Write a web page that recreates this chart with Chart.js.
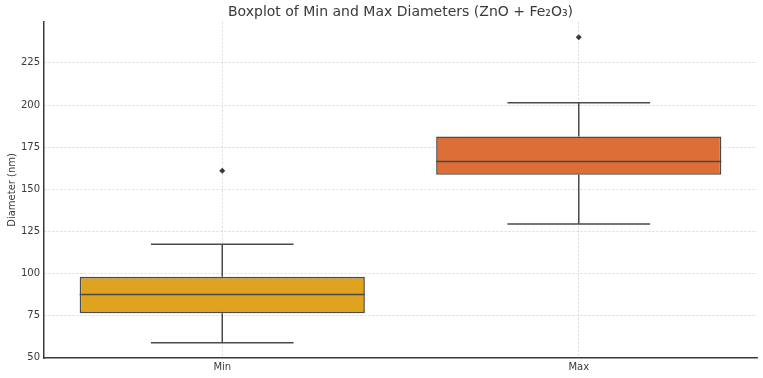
<!DOCTYPE html>
<html>
<head>
<meta charset="utf-8">
<script src="https://cdn.jsdelivr.net/npm/chart.js@4.4.1/dist/chart.umd.min.js"></script>
<style>
html,body{margin:0;padding:0;background:#fff;}
#wrap{width:763px;height:378px;}
</style>
</head>
<body>
<div id="wrap"><canvas id="c" width="763" height="378"></canvas></div>
<script>
const categories = ['Min', 'Max'];
const q1 = [76.4, 158.6];
const median = [87.5, 166.4];
const q3 = [98.0, 181.3];
const whiskerLow = [58.9, 129.4];
const whiskerHigh = [117.3, 201.4];
const outliers = [[161.0], [240.3]];
const yTicks = [50, 75, 100, 125, 150, 175, 200, 225];
const boxColors = ['#E0A31F', '#DD6E37'];

const FONT = 'DejaVu Sans';
const EDGE = '#4a4a4a';

const outlierPoints = [];
outliers.forEach((arr, i) => arr.forEach(v => outlierPoints.push({x: categories[i], y: v})));

const boxPlugin = {
  id: 'boxParts',
  beforeDatasetsDraw(chart) {
    const meta = chart.getDatasetMeta(0);
    const ys = chart.scales.y;
    const ctx = chart.ctx;
    ctx.save();
    ctx.strokeStyle = EDGE;
    ctx.lineWidth = 1.5;
    meta.data.forEach((bar, i) => {
      const x = bar.x;
      const half = bar.width / 4;
      const yLo = ys.getPixelForValue(whiskerLow[i]);
      const yHi = ys.getPixelForValue(whiskerHigh[i]);
      const yQ1 = ys.getPixelForValue(q1[i]);
      const yQ3 = ys.getPixelForValue(q3[i]);
      ctx.beginPath();
      ctx.moveTo(x, yQ1); ctx.lineTo(x, yLo);
      ctx.moveTo(x, yQ3); ctx.lineTo(x, yHi);
      ctx.moveTo(x - half, yLo); ctx.lineTo(x + half, yLo);
      ctx.moveTo(x - half, yHi); ctx.lineTo(x + half, yHi);
      ctx.stroke();
    });
    ctx.restore();
  },
  afterDatasetsDraw(chart) {
    const meta = chart.getDatasetMeta(0);
    const ys = chart.scales.y;
    const ctx = chart.ctx;
    ctx.save();
    ctx.strokeStyle = EDGE;
    ctx.lineWidth = 1.5;
    meta.data.forEach((bar, i) => {
      const x = bar.x;
      const half = bar.width / 2;
      const yM = ys.getPixelForValue(median[i]);
      ctx.beginPath();
      ctx.moveTo(x - half, yM); ctx.lineTo(x + half, yM);
      ctx.stroke();
    });
    ctx.restore();
  },
  afterLayout(chart) {
    if (chart.titleBlock) {
      chart.titleBlock.left = chart.chartArea.left;
      chart.titleBlock.right = chart.chartArea.right;
      chart.titleBlock.width = chart.chartArea.right - chart.chartArea.left;
    }
  }
};

new Chart(document.getElementById('c'), {
  type: 'bar',
  data: {
    labels: categories,
    datasets: [
      {
        type: 'bar',
        data: q1.map((v, i) => [v, q3[i]]),
        backgroundColor: boxColors,
        borderColor: EDGE,
        borderWidth: 1.6,
        borderSkipped: false,
        barPercentage: 0.8,
        categoryPercentage: 1.0,
        order: 2
      },
      {
        type: 'line',
        data: outlierPoints,
        showLine: false,
        pointStyle: 'rectRot',
        pointRadius: 3,
        pointBackgroundColor: '#3a3a3a',
        pointBorderColor: '#3a3a3a',
        pointBorderWidth: 0,
        order: 1
      }
    ]
  },
  options: {
    responsive: false,
    animation: false,
    devicePixelRatio: 1,
    layout: {padding: {left: 0, right: 6, top: 0, bottom: 0}},
    plugins: {
      legend: {display: false},
      tooltip: {enabled: false},
      title: {
        display: true,
        text: 'Boxplot of Min and Max Diameters (ZnO + Fe₂O₃)',
        color: '#3a3a3a',
        font: {family: FONT, size: 14, weight: 'normal', lineHeight: 1.2},
        padding: {top: 4, bottom: 1}
      }
    },
    scales: {
      x: {
        offset: true,
        grid: {display: true, offset: false, color: '#d2d2d2', lineWidth: 0.8, drawTicks: false},
        border: {display: true, color: '#3a3a3a', width: 1.5, dash: [2, 2]},
        ticks: {color: '#3a3a3a', font: {family: FONT, size: 10}, padding: 3},
        afterFit(s) { s.height = 20; }
      },
      y: {
        min: 49.8,
        max: 249.4,
        grid: {color: '#d2d2d2', lineWidth: 0.8, drawTicks: false},
        border: {display: true, color: '#3a3a3a', width: 1.5, dash: [2, 2]},
        ticks: {color: '#3a3a3a', font: {family: FONT, size: 10}, padding: 4},
        afterBuildTicks(s) { s.ticks = yTicks.map(v => ({value: v})); },
        title: {display: true, text: 'Diameter (nm)', color: '#3a3a3a', font: {family: FONT, size: 10}, padding: {top: 6, bottom: 0}},
        afterFit(s) { s.width = 44; }
      }
    }
  },
  plugins: [boxPlugin]
});
</script>
</body>
</html>
